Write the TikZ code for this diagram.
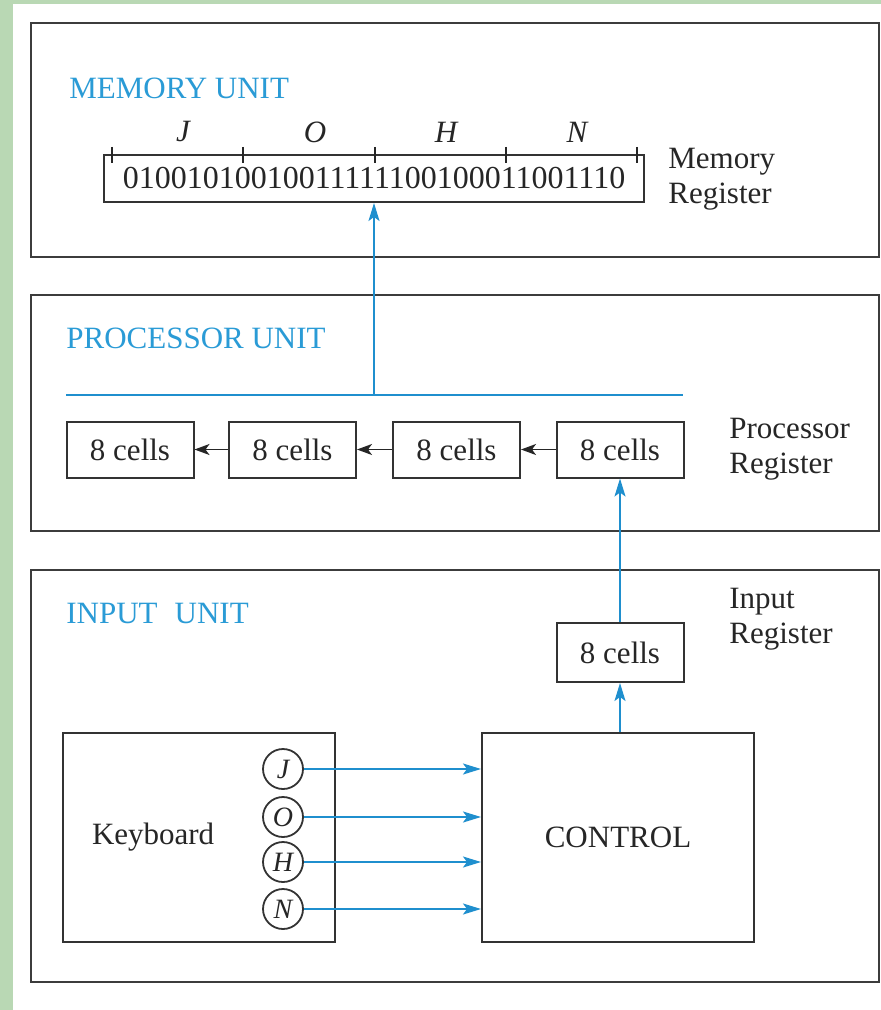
\documentclass[tikz,border=0pt]{standalone}
\usepackage{fontspec}
\setmainfont{Liberation Serif}
\usetikzlibrary{arrows.meta,calc}
\definecolor{regink}{HTML}{262626}
\definecolor{boxline}{HTML}{333333}
\definecolor{unitline}{HTML}{3C3C3C}
\definecolor{unitblue}{HTML}{2A9BD6}
\definecolor{wireblue}{HTML}{1F8FCE}
\definecolor{bggreen}{HTML}{B9D8B4}

\begin{document}
\begin{tikzpicture}[
  x=0.5pt, y=-0.5pt,
  font=\fontsize{15.5}{17.5}\selectfont,
  unitframe/.style={draw=unitline, line width=1.4pt},
  ulabel/.style={anchor=west, text=unitblue, inner sep=0pt},
  cellbox/.style={draw=boxline, fill=white, text=regink, line width=1pt,
    minimum width=63.5pt, minimum height=28pt, inner sep=0pt},
  regtag/.style={anchor=west, align=left, text=regink, inner sep=0pt},
  keyc/.style={circle, draw=boxline, line width=0.9pt, minimum size=20pt, inner sep=0pt,
    text=regink, font=\fontsize{14}{16}\selectfont\itshape},
  tickmark/.style={draw=regink, line width=0.8pt},
  bus/.style={draw=wireblue, line width=1pt},
  sig/.style={draw=wireblue, line width=0.9pt, -{Stealth[length=9pt,width=5.5pt,inset=2pt]}},
  shiftarrow/.style={draw=regink, line width=0.9pt, -{Stealth[length=7.5pt,width=5.5pt,inset=2pt]}},
]
\useasboundingbox (0,0) rectangle (881,1010);

% ===== page background =====
\fill[bggreen] (0,0) rectangle (881,1010);
\fill[white] (13,4) rectangle (881,1010);

% ===== unit frames =====
\draw[unitframe] (31,23) rectangle (879,257);
\draw[unitframe] (31,295) rectangle (879,531);
\draw[unitframe] (31,570) rectangle (879,982);

% =========================================================
% MEMORY UNIT
% =========================================================
\node[ulabel] (memlbl) at (69,88) {MEMORY UNIT};

\node[draw=boxline, line width=1pt, minimum width=270pt, minimum height=23.5pt,
  inner sep=0pt, text=regink, font=\fontsize{16}{18}\selectfont]
  (memreg) at (374,178.5) {01001010010011111100100011001110};
\foreach \tx in {112,243,375,506,637}
  \draw[tickmark] (\tx,147) -- (\tx,163);
\foreach \ch/\cx in {J/183,O/315,H/446,N/577}
  \node[text=regink, font=\fontsize{15.5}{17.5}\selectfont\itshape] (lt\ch) at (\cx,132) {\ch};

\node[regtag] (memtag) at (668,179) {Memory\\Register};

% =========================================================
% PROCESSOR UNIT
% =========================================================
\node[ulabel] (proclbl) at (66,338) {PROCESSOR UNIT};

\coordinate (busW) at (66,395);
\coordinate (busE) at (683,395);
\coordinate (busT) at (374,395);
\draw[bus] (busW) -- (busE);
\draw[sig] (busT) -- (memreg.south);

\foreach \i/\cx in {1/130,2/292.5,3/456.5,4/620}
  \node[cellbox] (c\i) at (\cx,449.5) {8 cells};
\foreach \a/\b in {4/3,3/2,2/1}
  \draw[shiftarrow] (c\a.west) -- (c\b.east);

\node[regtag] (proctag) at (729,449) {Processor\\Register};

% =========================================================
% INPUT UNIT
% =========================================================
\node[ulabel] (inlbl) at (66,613) {INPUT\hspace{0.55em}UNIT};

\node[cellbox, minimum height=29.5pt] (inreg) at (620,652.5) {8 cells};
\node[regtag] (intag) at (729,619.5) {Input\\Register};
\draw[sig] (inreg.north) -- (c4.south);

\node[draw=boxline, line width=1pt, minimum width=136pt, minimum height=104.5pt,
  inner sep=0pt, text=regink] (ctrl) at (618,837.5) {CONTROL};
\draw[sig] (inreg.south |- ctrl.north) -- (inreg.south);

\node[draw=boxline, line width=1pt, minimum width=136pt, minimum height=104.5pt,
  text width=107pt, inner xsep=14.5pt, align=left, text=regink] (kbd) at (199,837.5) {Keyboard};

% keys and their lines into the control
\foreach \k/\ky in {J/769,O/817,H/862,N/909}{
  \node[keyc] (k\k) at (283,\ky) {\k};
  \draw[sig] (k\k.east) -- (k\k.east -| ctrl.west);
}

\end{tikzpicture}
\end{document}
